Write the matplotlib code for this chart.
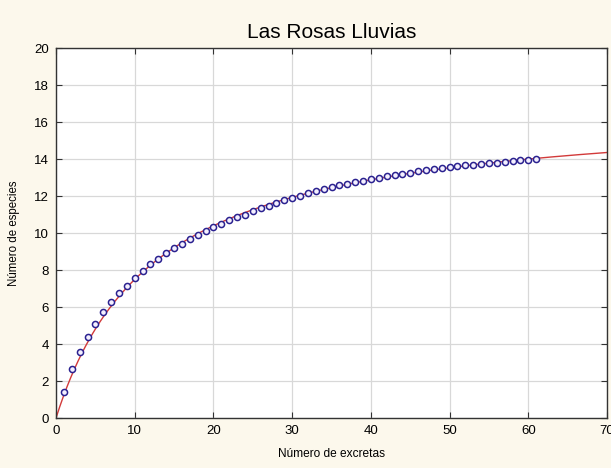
import numpy as np
import matplotlib
matplotlib.use("Agg")
import matplotlib.pyplot as plt

title = "Las Rosas Lluvias"
xlabel = "Número de excretas"
ylabel = "Número de especies"

excretas = list(range(1, 62))
especies = [1.41, 2.63, 3.58, 4.38, 5.08, 5.73, 6.27, 6.74, 7.15, 7.59,
            7.97, 8.30, 8.60, 8.91, 9.18, 9.43, 9.66, 9.89, 10.11, 10.32,
            10.48, 10.68, 10.84, 11.00, 11.18, 11.34, 11.48, 11.61, 11.76, 11.87,
            12.02, 12.16, 12.27, 12.38, 12.47, 12.58, 12.66, 12.75, 12.82, 12.93,
            12.99, 13.06, 13.13, 13.20, 13.26, 13.33, 13.40, 13.45, 13.50, 13.55,
            13.60, 13.65, 13.69, 13.73, 13.77, 13.81, 13.85, 13.89, 13.93, 13.97,
            14.00]

xticks = [0, 10, 20, 30, 40, 50, 60, 70]
yticks = [0, 2, 4, 6, 8, 10, 12, 14, 16, 18, 20]

# Clench-type fit y = a x / (1 + b x) from the data (linear least squares)
x = np.array(excretas, float)
y = np.array(especies, float)
A = np.column_stack([x, -x * y])
(a, b), *_ = np.linalg.lstsq(A, y, rcond=None)
xf = np.linspace(0, 70, 300)
yf = a * xf / (1 + b * xf)

plt.rcParams['font.family'] = ['Liberation Sans', 'DejaVu Sans']
bg = '#FCF8EC'
fig = plt.figure(figsize=(6.11, 4.68), dpi=100, facecolor=bg)
ax = fig.add_axes([0.0917, 0.1068, 0.9018, 0.7906])
ax.set_facecolor('white')

ax.plot(xf, yf, color='#D23A3A', lw=1.0, zorder=2)
ax.plot(x, y, linestyle='none', marker='o', markersize=4.4,
        markerfacecolor='#F4F0FF', markeredgecolor='#2B2290',
        markeredgewidth=1.1, zorder=3)

ax.set_xlim(0, 70)
ax.set_ylim(0, 20)
ax.set_xticks(xticks)
ax.set_yticks(yticks)
ax.grid(True, color='#D8D8D8', lw=0.9)
ax.set_axisbelow(True)
ax.tick_params(direction='in', length=4, width=0.8, color='#333333',
               labelsize=9.5, top=True, right=True, pad=5)
for s in ax.spines.values():
    s.set_color('#333333')
    s.set_linewidth(1.0)

ax.set_title(title, fontsize=15, pad=7)
ax.set_xlabel(xlabel, fontsize=8.6, labelpad=8)
ax.set_ylabel(ylabel, fontsize=8.3, labelpad=10)

fig.savefig('out.png', dpi=100, facecolor=bg)
